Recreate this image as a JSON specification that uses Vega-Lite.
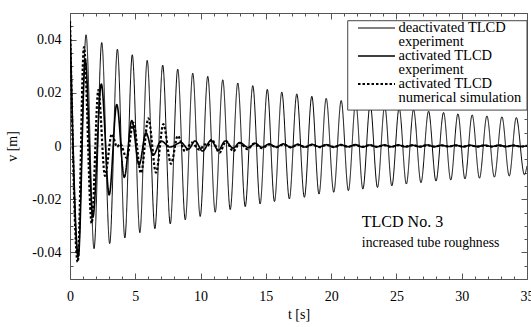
{
  "$schema": "https://vega.github.io/schema/vega-lite/v6.json",
  "autosize": "none",
  "width": 457,
  "height": 266,
  "padding": {"left": 70, "top": 13, "right": 4, "bottom": 48},
  "background": "white",
  "config": {
    "view": {"stroke": "#555", "strokeWidth": 1},
    "axis": {
      "grid": false,
      "domain": false,
      "labelFont": "Liberation Serif",
      "labelFontSize": 14,
      "labelColor": "black",
      "titleFont": "Liberation Serif",
      "titleFontSize": 14,
      "titleFontWeight": "normal",
      "titleColor": "black",
      "tickColor": "#555",
      "labelFlush": false,
      "labelOverlap": false
    }
  },
  "data": {"values": [
    {"s": "deactivated TLCD experiment", "t": 0, "v": 0.047},
    {"s": "deactivated TLCD experiment", "t": 0.61, "v": -0.042},
    {"s": "deactivated TLCD experiment", "t": 1.23, "v": 0.0418},
    {"s": "deactivated TLCD experiment", "t": 1.84, "v": -0.0386},
    {"s": "deactivated TLCD experiment", "t": 2.43, "v": 0.0389},
    {"s": "deactivated TLCD experiment", "t": 3.04, "v": -0.0367},
    {"s": "deactivated TLCD experiment", "t": 3.63, "v": 0.0364},
    {"s": "deactivated TLCD experiment", "t": 4.2, "v": -0.0346},
    {"s": "deactivated TLCD experiment", "t": 4.77, "v": 0.0343},
    {"s": "deactivated TLCD experiment", "t": 5.35, "v": -0.0326},
    {"s": "deactivated TLCD experiment", "t": 5.91, "v": 0.0322},
    {"s": "deactivated TLCD experiment", "t": 6.5, "v": -0.0311},
    {"s": "deactivated TLCD experiment", "t": 7.1, "v": 0.0304},
    {"s": "deactivated TLCD experiment", "t": 7.68, "v": -0.0293},
    {"s": "deactivated TLCD experiment", "t": 8.25, "v": 0.0289},
    {"s": "deactivated TLCD experiment", "t": 8.83, "v": -0.0278},
    {"s": "deactivated TLCD experiment", "t": 9.4, "v": 0.0274},
    {"s": "deactivated TLCD experiment", "t": 9.97, "v": -0.0265},
    {"s": "deactivated TLCD experiment", "t": 10.55, "v": 0.0262},
    {"s": "deactivated TLCD experiment", "t": 11.12, "v": -0.0249},
    {"s": "deactivated TLCD experiment", "t": 11.7, "v": 0.0249},
    {"s": "deactivated TLCD experiment", "t": 12.27, "v": -0.0239},
    {"s": "deactivated TLCD experiment", "t": 12.85, "v": 0.0237},
    {"s": "deactivated TLCD experiment", "t": 13.42, "v": -0.0228},
    {"s": "deactivated TLCD experiment", "t": 14.0, "v": 0.0227},
    {"s": "deactivated TLCD experiment", "t": 14.56, "v": -0.0218},
    {"s": "deactivated TLCD experiment", "t": 15.11, "v": 0.0213},
    {"s": "deactivated TLCD experiment", "t": 15.66, "v": -0.0209},
    {"s": "deactivated TLCD experiment", "t": 16.22, "v": 0.0203},
    {"s": "deactivated TLCD experiment", "t": 16.8, "v": -0.0199},
    {"s": "deactivated TLCD experiment", "t": 17.37, "v": 0.0196},
    {"s": "deactivated TLCD experiment", "t": 17.95, "v": -0.0193},
    {"s": "deactivated TLCD experiment", "t": 18.52, "v": 0.0187},
    {"s": "deactivated TLCD experiment", "t": 19.07, "v": -0.0181},
    {"s": "deactivated TLCD experiment", "t": 19.62, "v": 0.0179},
    {"s": "deactivated TLCD experiment", "t": 20.2, "v": -0.0174},
    {"s": "deactivated TLCD experiment", "t": 20.77, "v": 0.0171},
    {"s": "deactivated TLCD experiment", "t": 21.32, "v": -0.0168},
    {"s": "deactivated TLCD experiment", "t": 21.88, "v": 0.0164},
    {"s": "deactivated TLCD experiment", "t": 22.43, "v": -0.0162},
    {"s": "deactivated TLCD experiment", "t": 22.99, "v": 0.0157},
    {"s": "deactivated TLCD experiment", "t": 23.55, "v": -0.0156},
    {"s": "deactivated TLCD experiment", "t": 24.1, "v": 0.015},
    {"s": "deactivated TLCD experiment", "t": 24.65, "v": -0.015},
    {"s": "deactivated TLCD experiment", "t": 25.21, "v": 0.0143},
    {"s": "deactivated TLCD experiment", "t": 25.76, "v": -0.0143},
    {"s": "deactivated TLCD experiment", "t": 26.31, "v": 0.0137},
    {"s": "deactivated TLCD experiment", "t": 26.88, "v": -0.0138},
    {"s": "deactivated TLCD experiment", "t": 27.46, "v": 0.0131},
    {"s": "deactivated TLCD experiment", "t": 28.03, "v": -0.0132},
    {"s": "deactivated TLCD experiment", "t": 28.61, "v": 0.0126},
    {"s": "deactivated TLCD experiment", "t": 29.16, "v": -0.0128},
    {"s": "deactivated TLCD experiment", "t": 29.71, "v": 0.0121},
    {"s": "deactivated TLCD experiment", "t": 30.25, "v": -0.0124},
    {"s": "deactivated TLCD experiment", "t": 30.8, "v": 0.0117},
    {"s": "deactivated TLCD experiment", "t": 31.36, "v": -0.0121},
    {"s": "deactivated TLCD experiment", "t": 31.93, "v": 0.0113},
    {"s": "deactivated TLCD experiment", "t": 32.5, "v": -0.0117},
    {"s": "deactivated TLCD experiment", "t": 33.08, "v": 0.011},
    {"s": "deactivated TLCD experiment", "t": 33.64, "v": -0.0113},
    {"s": "deactivated TLCD experiment", "t": 34.18, "v": 0.0107},
    {"s": "deactivated TLCD experiment", "t": 34.8, "v": -0.0108},
    {"s": "deactivated TLCD experiment", "t": 35, "v": -0.0075},

    {"s": "activated TLCD numerical simulation", "t": 0, "v": 0.047},
    {"s": "activated TLCD numerical simulation", "t": 0.59, "v": -0.0436},
    {"s": "activated TLCD numerical simulation", "t": 1.07, "v": 0.0372},
    {"s": "activated TLCD numerical simulation", "t": 1.66, "v": -0.029},
    {"s": "activated TLCD numerical simulation", "t": 2.17, "v": 0.021},
    {"s": "activated TLCD numerical simulation", "t": 2.68, "v": -0.0112},
    {"s": "activated TLCD numerical simulation", "t": 3.2, "v": 0.0045},
    {"s": "activated TLCD numerical simulation", "t": 3.6, "v": -0.0003},
    {"s": "activated TLCD numerical simulation", "t": 3.85, "v": 0.0008},
    {"s": "activated TLCD numerical simulation", "t": 4.34, "v": -0.0045},
    {"s": "activated TLCD numerical simulation", "t": 4.85, "v": 0.0087},
    {"s": "activated TLCD numerical simulation", "t": 5.44, "v": -0.0102},
    {"s": "activated TLCD numerical simulation", "t": 6.0, "v": 0.0104},
    {"s": "activated TLCD numerical simulation", "t": 6.59, "v": -0.01},
    {"s": "activated TLCD numerical simulation", "t": 7.15, "v": 0.0082},
    {"s": "activated TLCD numerical simulation", "t": 7.74, "v": -0.0067},
    {"s": "activated TLCD numerical simulation", "t": 8.25, "v": 0.0038},
    {"s": "activated TLCD numerical simulation", "t": 8.81, "v": -0.002},
    {"s": "activated TLCD numerical simulation", "t": 9.32, "v": 0.0013},
    {"s": "activated TLCD numerical simulation", "t": 9.9, "v": -0.0014},
    {"s": "activated TLCD numerical simulation", "t": 10.35, "v": 0.0006},
    {"s": "activated TLCD numerical simulation", "t": 10.55, "v": 0.0001},
    {"s": "activated TLCD numerical simulation", "t": 10.85, "v": 0.0024},
    {"s": "activated TLCD numerical simulation", "t": 11.45, "v": -0.0025},
    {"s": "activated TLCD numerical simulation", "t": 11.95, "v": 0.0018},
    {"s": "activated TLCD numerical simulation", "t": 12.5, "v": -0.002},
    {"s": "activated TLCD numerical simulation", "t": 13.0, "v": 0.0011},
    {"s": "activated TLCD numerical simulation", "t": 13.6, "v": -0.0012},
    {"s": "activated TLCD numerical simulation", "t": 14.1, "v": 0.0009},
    {"s": "activated TLCD numerical simulation", "t": 14.7, "v": -0.0008},
    {"s": "activated TLCD numerical simulation", "t": 15.25, "v": 0.0006},
    {"s": "activated TLCD numerical simulation", "t": 15.8, "v": -0.0005},
    {"s": "activated TLCD numerical simulation", "t": 16.35, "v": 0.0006},
    {"s": "activated TLCD numerical simulation", "t": 16.9, "v": -0.0005},
    {"s": "activated TLCD numerical simulation", "t": 17.45, "v": 0.0005},
    {"s": "activated TLCD numerical simulation", "t": 18.0, "v": -0.0004},
    {"s": "activated TLCD numerical simulation", "t": 18.55, "v": 0.0005},
    {"s": "activated TLCD numerical simulation", "t": 19.1, "v": -0.0004},
    {"s": "activated TLCD numerical simulation", "t": 19.65, "v": 0.0004},
    {"s": "activated TLCD numerical simulation", "t": 20.2, "v": -0.0004},
    {"s": "activated TLCD numerical simulation", "t": 20.75, "v": 0.0004},
    {"s": "activated TLCD numerical simulation", "t": 21.3, "v": -0.0003},
    {"s": "activated TLCD numerical simulation", "t": 21.85, "v": 0.0004},
    {"s": "activated TLCD numerical simulation", "t": 22.4, "v": -0.0003},
    {"s": "activated TLCD numerical simulation", "t": 22.95, "v": 0.0003},
    {"s": "activated TLCD numerical simulation", "t": 23.5, "v": -0.0003},
    {"s": "activated TLCD numerical simulation", "t": 24.05, "v": 0.0003},
    {"s": "activated TLCD numerical simulation", "t": 24.6, "v": -0.0003},
    {"s": "activated TLCD numerical simulation", "t": 25.15, "v": 0.0003},
    {"s": "activated TLCD numerical simulation", "t": 25.7, "v": -0.0002},
    {"s": "activated TLCD numerical simulation", "t": 26.25, "v": 0.0003},
    {"s": "activated TLCD numerical simulation", "t": 26.8, "v": -0.0002},
    {"s": "activated TLCD numerical simulation", "t": 27.35, "v": 0.0003},
    {"s": "activated TLCD numerical simulation", "t": 27.9, "v": -0.0002},
    {"s": "activated TLCD numerical simulation", "t": 28.45, "v": 0.0002},
    {"s": "activated TLCD numerical simulation", "t": 29.0, "v": -0.0002},
    {"s": "activated TLCD numerical simulation", "t": 29.55, "v": 0.0002},
    {"s": "activated TLCD numerical simulation", "t": 30.1, "v": -0.0002},
    {"s": "activated TLCD numerical simulation", "t": 30.65, "v": 0.0002},
    {"s": "activated TLCD numerical simulation", "t": 31.2, "v": -0.0002},
    {"s": "activated TLCD numerical simulation", "t": 31.75, "v": 0.0002},
    {"s": "activated TLCD numerical simulation", "t": 32.3, "v": -0.0002},
    {"s": "activated TLCD numerical simulation", "t": 32.85, "v": 0.0002},
    {"s": "activated TLCD numerical simulation", "t": 33.4, "v": -0.0002},
    {"s": "activated TLCD numerical simulation", "t": 33.95, "v": 0.0002},
    {"s": "activated TLCD numerical simulation", "t": 34.5, "v": -0.0002},
    {"s": "activated TLCD numerical simulation", "t": 35, "v": 0.0001},

    {"s": "activated TLCD experiment", "t": 0, "v": 0.047},
    {"s": "activated TLCD experiment", "t": 0.64, "v": -0.0415},
    {"s": "activated TLCD experiment", "t": 1.17, "v": 0.0325},
    {"s": "activated TLCD experiment", "t": 1.75, "v": -0.0268},
    {"s": "activated TLCD experiment", "t": 2.4, "v": 0.0233},
    {"s": "activated TLCD experiment", "t": 3.0, "v": -0.0184},
    {"s": "activated TLCD experiment", "t": 3.58, "v": 0.0156},
    {"s": "activated TLCD experiment", "t": 4.16, "v": -0.0118},
    {"s": "activated TLCD experiment", "t": 4.73, "v": 0.0096},
    {"s": "activated TLCD experiment", "t": 5.29, "v": -0.0071},
    {"s": "activated TLCD experiment", "t": 5.82, "v": 0.005},
    {"s": "activated TLCD experiment", "t": 6.38, "v": -0.0034},
    {"s": "activated TLCD experiment", "t": 6.97, "v": 0.0019},
    {"s": "activated TLCD experiment", "t": 7.66, "v": -0.0004},
    {"s": "activated TLCD experiment", "t": 8.5, "v": 0.0013},
    {"s": "activated TLCD experiment", "t": 9.07, "v": -0.0012},
    {"s": "activated TLCD experiment", "t": 9.58, "v": 0.0019},
    {"s": "activated TLCD experiment", "t": 10.15, "v": -0.0019},
    {"s": "activated TLCD experiment", "t": 10.8, "v": 0.0021},
    {"s": "activated TLCD experiment", "t": 11.37, "v": -0.0016},
    {"s": "activated TLCD experiment", "t": 11.88, "v": 0.0019},
    {"s": "activated TLCD experiment", "t": 12.5, "v": -0.0008},
    {"s": "activated TLCD experiment", "t": 13.0, "v": 0.0013},
    {"s": "activated TLCD experiment", "t": 13.66, "v": -0.0006},
    {"s": "activated TLCD experiment", "t": 14.18, "v": 0.001},
    {"s": "activated TLCD experiment", "t": 14.69, "v": -0.0005},
    {"s": "activated TLCD experiment", "t": 15.25, "v": 0.0007},
    {"s": "activated TLCD experiment", "t": 15.8, "v": -0.0004},
    {"s": "activated TLCD experiment", "t": 16.35, "v": 0.0008},
    {"s": "activated TLCD experiment", "t": 16.9, "v": -0.0005},
    {"s": "activated TLCD experiment", "t": 17.45, "v": 0.0006},
    {"s": "activated TLCD experiment", "t": 18.0, "v": -0.0004},
    {"s": "activated TLCD experiment", "t": 18.55, "v": 0.0006},
    {"s": "activated TLCD experiment", "t": 19.1, "v": -0.0003},
    {"s": "activated TLCD experiment", "t": 19.65, "v": 0.0005},
    {"s": "activated TLCD experiment", "t": 20.2, "v": -0.0004},
    {"s": "activated TLCD experiment", "t": 20.75, "v": 0.0005},
    {"s": "activated TLCD experiment", "t": 21.3, "v": -0.0003},
    {"s": "activated TLCD experiment", "t": 21.85, "v": 0.0005},
    {"s": "activated TLCD experiment", "t": 22.4, "v": -0.0004},
    {"s": "activated TLCD experiment", "t": 22.95, "v": 0.0004},
    {"s": "activated TLCD experiment", "t": 23.5, "v": -0.0003},
    {"s": "activated TLCD experiment", "t": 24.05, "v": 0.0004},
    {"s": "activated TLCD experiment", "t": 24.6, "v": -0.0003},
    {"s": "activated TLCD experiment", "t": 25.15, "v": 0.0004},
    {"s": "activated TLCD experiment", "t": 25.7, "v": -0.0003},
    {"s": "activated TLCD experiment", "t": 26.25, "v": 0.0003},
    {"s": "activated TLCD experiment", "t": 26.8, "v": -0.0003},
    {"s": "activated TLCD experiment", "t": 27.35, "v": 0.0004},
    {"s": "activated TLCD experiment", "t": 27.9, "v": -0.0003},
    {"s": "activated TLCD experiment", "t": 28.45, "v": 0.0003},
    {"s": "activated TLCD experiment", "t": 29.0, "v": -0.0002},
    {"s": "activated TLCD experiment", "t": 29.55, "v": 0.0003},
    {"s": "activated TLCD experiment", "t": 30.1, "v": -0.0003},
    {"s": "activated TLCD experiment", "t": 30.65, "v": 0.0003},
    {"s": "activated TLCD experiment", "t": 31.2, "v": -0.0002},
    {"s": "activated TLCD experiment", "t": 31.75, "v": 0.0003},
    {"s": "activated TLCD experiment", "t": 32.3, "v": -0.0002},
    {"s": "activated TLCD experiment", "t": 32.85, "v": 0.0003},
    {"s": "activated TLCD experiment", "t": 33.4, "v": -0.0002},
    {"s": "activated TLCD experiment", "t": 33.95, "v": 0.0002},
    {"s": "activated TLCD experiment", "t": 34.5, "v": -0.0002},
    {"s": "activated TLCD experiment", "t": 35, "v": 0.0001}
  ]},
  "layer": [
    {
      "data": {"values": [{"v": 0}]},
      "mark": {"type": "rule", "color": "#bbbbbb", "strokeWidth": 1},
      "encoding": {"y": {"field": "v", "type": "quantitative", "axis": null}}
    },
    {
      "mark": {"type": "line", "interpolate": "monotone", "color": "black", "clip": true},
      "encoding": {
        "x": {
          "field": "t", "type": "quantitative",
          "scale": {"domain": [0, 35], "nice": false, "zero": false},
          "axis": {
            "orient": "bottom",
            "title": "t [s]",
            "values": [0,1,2,3,4,5,6,7,8,9,10,11,12,13,14,15,16,17,18,19,20,21,22,23,24,25,26,27,28,29,30,31,32,33,34,35],
            "labelExpr": "datum.value % 5 === 0 ? datum.label : ''",
            "tickSize": {"condition": {"test": "datum.value % 5 === 0", "value": -6}, "value": -3},
            "labelPadding": 16,
            "titlePadding": 1
          }
        },
        "y": {
          "field": "v", "type": "quantitative",
          "scale": {"domain": [-0.05, 0.05], "nice": false, "zero": false},
          "axis": {
            "orient": "left",
            "title": "v [m]",
            "values": [-0.05,-0.045,-0.04,-0.035,-0.03,-0.025,-0.02,-0.015,-0.01,-0.005,0,0.005,0.01,0.015,0.02,0.025,0.03,0.035,0.04,0.045,0.05],
            "labelExpr": "datum.value === 0 ? '0' : indexof([-0.04,-0.02,0.02,0.04], datum.value) >= 0 ? (datum.value < 0 ? '-' : '') + format(abs(datum.value), '.2f') : ''",
            "tickSize": {"condition": {"test": "indexof([-0.04,-0.02,0,0.02,0.04], datum.value) >= 0", "value": -6}, "value": -3},
            "labelPadding": 15,
            "titlePadding": 12
          }
        },
        "strokeDash": {
          "field": "s", "type": "nominal",
          "scale": {
            "domain": ["deactivated TLCD experiment", "activated TLCD experiment", "activated TLCD numerical simulation"],
            "range": [[1, 0], [1, 0], [2.5, 2]]
          },
          "legend": {
            "orient": "none",
            "legendX": 286.5,
            "legendY": 8,
            "title": null,
            "symbolType": "stroke",
            "symbolSize": 1369,
            "symbolStrokeColor": "black",
            "clipHeight": 14,
            "labelFont": "Liberation Serif",
            "labelFontSize": 14.5,
            "labelColor": "black",
            "labelLimit": 400,
            "labelOffset": 2,
            "labelBaseline": "middle",
            "padding": 0,
            "rowPadding": -1.5,
            "labelExpr": "split(replace(datum.label, 'TLCD ', 'TLCD|'), '|')",
            "encode": {"labels": {"update": {"lineHeight": {"value": 13.7}}}}
          }
        },
        "strokeWidth": {
          "field": "s", "type": "nominal",
          "scale": {
            "domain": ["deactivated TLCD experiment", "activated TLCD experiment", "activated TLCD numerical simulation"],
            "range": [1, 2.2, 1.6]
          },
          "legend": {
            "orient": "none",
            "legendX": 286.5,
            "legendY": 8,
            "title": null,
            "symbolType": "stroke",
            "symbolSize": 1369,
            "symbolStrokeColor": "black",
            "clipHeight": 14,
            "labelFont": "Liberation Serif",
            "labelFontSize": 14.5,
            "labelColor": "black",
            "labelLimit": 400,
            "labelOffset": 2,
            "labelBaseline": "middle",
            "padding": 0,
            "rowPadding": -1.5,
            "labelExpr": "split(replace(datum.label, 'TLCD ', 'TLCD|'), '|')",
            "encode": {"labels": {"update": {"lineHeight": {"value": 13.7}}}}
          }
        }
      }
    },
    {
      "data": {"values": [{"box": "legend frame"}]},
      "mark": {"type": "rect", "fill": "white", "stroke": "#444", "strokeWidth": 1},
      "encoding": {
        "x": {"datum": 21.27, "type": "quantitative", "axis": null},
        "x2": {"datum": 35},
        "y": {"datum": 0.0471, "type": "quantitative", "axis": null},
        "y2": {"datum": 0.0135}
      }
    },
    {
      "data": {"values": [{"t": 22.35, "v": -0.0286, "label": "TLCD No. 3"}]},
      "mark": {"type": "text", "align": "left", "baseline": "middle", "fontSize": 16, "font": "Liberation Serif", "color": "black"},
      "encoding": {
        "x": {"field": "t", "type": "quantitative", "axis": null},
        "y": {"field": "v", "type": "quantitative", "axis": null},
        "text": {"field": "label"}
      }
    },
    {
      "data": {"values": [{"t": 22.35, "v": -0.0365, "label": "increased tube roughness"}]},
      "mark": {"type": "text", "align": "left", "baseline": "middle", "fontSize": 13.7, "font": "Liberation Serif", "color": "black"},
      "encoding": {
        "x": {"field": "t", "type": "quantitative", "axis": null},
        "y": {"field": "v", "type": "quantitative", "axis": null},
        "text": {"field": "label"}
      }
    },
    {
      "data": {"values": [{"t": 0, "v": 0}]},
      "mark": {"type": "point", "opacity": 0},
      "encoding": {
        "x": {
          "field": "t", "type": "quantitative",
          "axis": {
            "orient": "top", "title": null, "labels": false,
            "values": [0,1,2,3,4,5,6,7,8,9,10,11,12,13,14,15,16,17,18,19,20,21,22,23,24,25,26,27,28,29,30,31,32,33,34,35],
            "tickSize": {"condition": {"test": "datum.value % 5 === 0", "value": -6}, "value": -3}
          }
        },
        "y": {
          "field": "v", "type": "quantitative",
          "axis": {
            "orient": "right", "title": null, "labels": false,
            "values": [-0.05,-0.045,-0.04,-0.035,-0.03,-0.025,-0.02,-0.015,-0.01,-0.005,0,0.005,0.01,0.015,0.02,0.025,0.03,0.035,0.04,0.045,0.05],
            "tickSize": {"condition": {"test": "indexof([-0.04,-0.02,0,0.02,0.04], datum.value) >= 0", "value": -6}, "value": -3}
          }
        }
      }
    }
  ],
  "resolve": {"axis": {"x": "independent", "y": "independent"}}
}
